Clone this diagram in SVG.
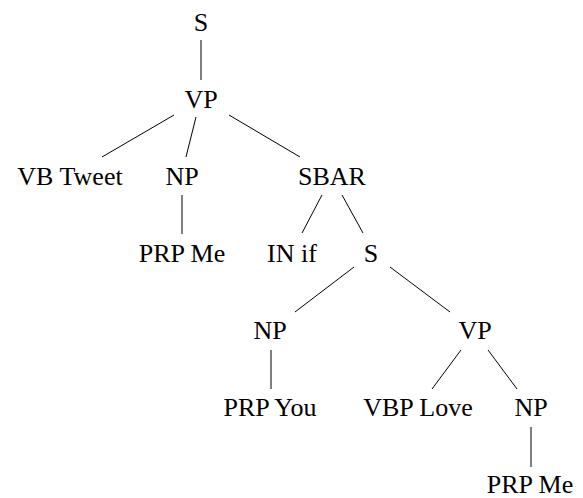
<svg xmlns="http://www.w3.org/2000/svg" width="583" height="498" viewBox="0 0 583 498">
  <style>
    text { font-family: "Liberation Serif", "Times New Roman", serif; font-size: 26px; fill: #000; text-anchor: middle; }
    .edges line { stroke: #000; stroke-width: 1; }
  </style>
  <rect width="583" height="498" fill="#fff"/>
  <g id="connectors" class="edges">
    <line x1="201" y1="40" x2="201" y2="80"/>
    <line x1="174" y1="115" x2="102" y2="157"/>
    <line x1="196" y1="117" x2="186" y2="157"/>
    <line x1="229" y1="115" x2="300" y2="157"/>
    <line x1="182" y1="195" x2="182" y2="234"/>
    <line x1="322" y1="195" x2="302" y2="233"/>
    <line x1="342" y1="195" x2="363" y2="233"/>
    <line x1="354" y1="267" x2="295" y2="312"/>
    <line x1="390" y1="267" x2="450" y2="312"/>
    <line x1="271" y1="350" x2="271" y2="389"/>
    <line x1="461" y1="350" x2="432" y2="389"/>
    <line x1="488" y1="350" x2="517" y2="389"/>
    <line x1="531" y1="427" x2="531" y2="467"/>
  </g>
  <g id="n-s-root"><text x="201" y="31">S</text></g>
  <g id="n-vp-top"><text x="201" y="108">VP</text></g>
  <g id="n-vb-tweet"><text x="70" y="185">VB Tweet</text></g>
  <g id="n-np-obj"><text x="182" y="185">NP</text></g>
  <g id="n-sbar"><text x="332" y="185">SBAR</text></g>
  <g id="n-prp-me-1"><text x="182" y="262">PRP Me</text></g>
  <g id="n-in-if"><text x="292" y="262">IN if</text></g>
  <g id="n-s-sub"><text x="371" y="262">S</text></g>
  <g id="n-np-subj"><text x="270" y="339">NP</text></g>
  <g id="n-vp-sub"><text x="475" y="339">VP</text></g>
  <g id="n-prp-you"><text x="270" y="416">PRP You</text></g>
  <g id="n-vbp-love"><text x="418" y="416">VBP Love</text></g>
  <g id="n-np-sub-obj"><text x="531" y="416">NP</text></g>
  <g id="n-prp-me-2"><text x="530" y="493">PRP Me</text></g>
</svg>
